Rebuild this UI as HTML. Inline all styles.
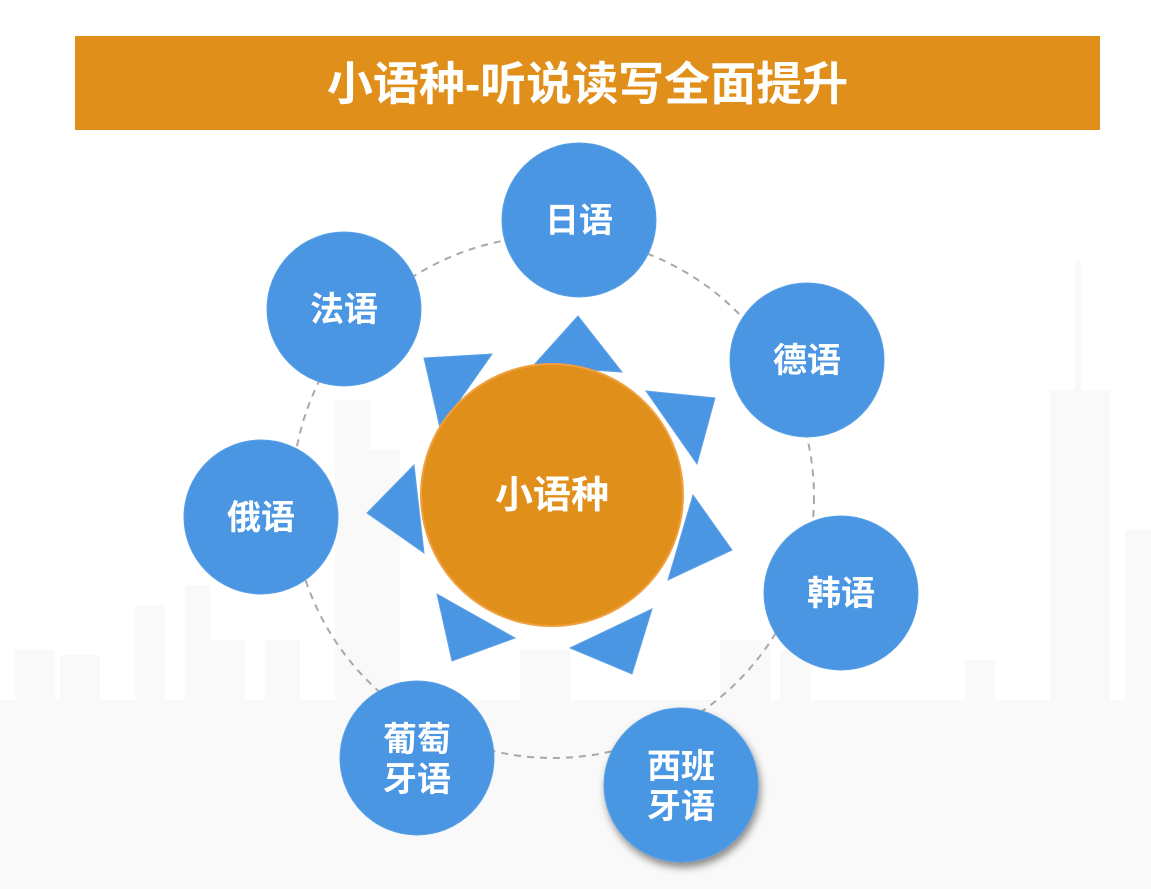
<!DOCTYPE html>
<html><head><meta charset="utf-8"><style>
html,body{margin:0;padding:0;background:#fff;}
body{width:1151px;height:889px;position:relative;overflow:hidden;font-family:"Liberation Sans","Noto Sans CJK SC",sans-serif;}
.title{position:absolute;left:75px;top:36px;width:1025px;height:94px;background:#E0901A;color:#fff;font-weight:bold;font-size:46px;line-height:96px;text-align:center;}
svg{position:absolute;left:0;top:0;}
</style></head><body>
<svg width="1151" height="889" viewBox="0 0 1151 889">
<g fill="#f9f9f9">
<rect x="0" y="700" width="1151" height="189"/>
<rect x="15" y="650" width="40" height="239"/>
<rect x="60" y="655" width="40" height="234"/>
<rect x="135" y="605" width="30" height="284"/>
<rect x="185" y="585" width="25" height="304"/>
<rect x="210" y="640" width="35" height="249"/>
<rect x="265" y="640" width="35" height="249"/>
<rect x="335" y="400" width="35" height="489"/>
<rect x="370" y="450" width="30" height="439"/>
<rect x="520" y="650" width="50" height="239"/>
<rect x="720" y="640" width="50" height="249"/>
<rect x="780" y="650" width="30" height="239"/>
<rect x="900" y="700" width="50" height="189"/>
<rect x="965" y="660" width="30" height="229"/>
<rect x="1050" y="390" width="60" height="499"/>
<rect x="1075" y="260" width="6" height="130"/>
<rect x="1125" y="530" width="26" height="359"/>
</g>
<circle cx="553" cy="497" r="261" fill="none" stroke="#a8a8a8" stroke-width="2" stroke-dasharray="7,6"/>
<defs><filter id="sh" x="-30%" y="-30%" width="160%" height="160%"><feDropShadow dx="2" dy="5" stdDeviation="4" flood-color="#000" flood-opacity="0.45"/></filter></defs>
<g fill="#4A96E3" stroke="#5fa2e6" stroke-width="1">
<polygon points="578,316 533,366 622,372"/>
<polygon points="424,358 492,354 440,428"/>
<polygon points="646,391 715,398 697,464"/>
<polygon points="414,465 367,513 424,553"/>
<polygon points="693,495 732,550 668,580"/>
<polygon points="437,594 515,638 452,661"/>
<polygon points="570,648 652,609 632,674"/>
</g>
<circle cx="552" cy="495" r="131" fill="#E0901A" stroke="#F0A040" stroke-width="2"/>
<g fill="#4A96E3" stroke="#5aa0e6" stroke-width="1">
<circle cx="579" cy="220" r="77"/>
<circle cx="344" cy="309" r="77"/>
<circle cx="807" cy="360" r="77"/>
<circle cx="261" cy="517" r="77"/>
<circle cx="841" cy="593" r="77"/>
<circle cx="417" cy="758" r="77"/>
<circle cx="681" cy="785" r="77" filter="url(#sh)"/>
</g>
<g fill="#fff" font-weight="bold" font-size="34" text-anchor="middle" font-family="Liberation Sans, Noto Sans CJK SC, sans-serif">
<text x="552" y="508" font-size="38">小语种</text>
<text x="579" y="232">日语</text>
<text x="344" y="321">法语</text>
<text x="807" y="372">德语</text>
<text x="261" y="529">俄语</text>
<text x="841" y="605">韩语</text>
<text x="417" y="751">葡萄</text>
<text x="417" y="791">牙语</text>
<text x="681" y="778">西班</text>
<text x="681" y="818">牙语</text>
</g>
</svg>
<div class="title">小语种-听说读写全面提升</div>
</body></html>
